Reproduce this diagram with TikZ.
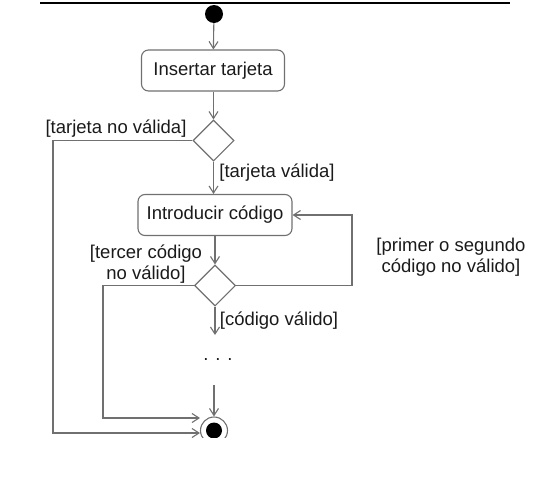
\documentclass[tikz,border=0pt]{standalone}
\usepackage{fontspec}
\setmainfont{Liberation Sans}
\usetikzlibrary{shapes.geometric,arrows.meta,calc}
\definecolor{ln}{HTML}{707070}
\definecolor{tx}{HTML}{1A1A1A}
\begin{document}
\begin{tikzpicture}[x=1pt,y=-1pt,
 act/.style={draw=ln,line width=1.1pt,rounded corners=7pt,minimum height=41pt,inner sep=0pt,font=\fontsize{18.5}{21}\selectfont,text=tx},
 dec/.style={draw=ln,line width=1.1pt,diamond,aspect=1,minimum size=41pt,inner sep=0pt},
 arr/.style={draw=ln,line width=1.1pt,-{Straight Barb[length=7pt,width=9pt]}},
 lbl/.style={font=\fontsize{18.5}{21}\selectfont,text=tx,inner sep=0pt,align=center},
]
\useasboundingbox (0,0) rectangle (541,477);
\draw[line width=1.3pt] (40,3) -- (510,3);
\begin{scope}
\clip (0,0) rectangle (541,437);
\node[circle,fill=black,minimum size=18pt,inner sep=0pt] (start) at (214,14) {};
\node[act,minimum width=143pt] (ins) at (213,70.5) {Insertar tarjeta};
\node[dec] (d1) at (213.5,140.5) {};
\node[act,minimum width=154pt] (cod) at (215,215) {Introducir código};
\node[dec] (d2) at (215,285.5) {};
\node[circle,draw=ln,line width=1.1pt,minimum size=27pt,inner sep=0pt] (fin) at (214,430.5) {};
\node[circle,fill=black,minimum size=16pt,inner sep=0pt] (finc) at (fin.center) {};
\coordinate (l1) at (53,300);
\coordinate (l2) at (103,350);
\coordinate (lp) at (352,250);
\coordinate (fA) at (200,418);
\coordinate (fB) at (200,433);
\coordinate (dd) at (215,335);
\coordinate (du) at (214,385);
\draw[arr] (start) -- (ins);
\draw[arr] (ins.south -| d1.north) -- (d1.north);
\draw[arr] (d1.south) -- (d1.south |- cod.north);
\draw[arr] (cod.south) -- (d2.north);
\draw[arr] (d2.east) -| (lp) |- (cod.east);
\draw[arr] (d1.west) -| (l1) |- (fB);
\draw[arr] (d2.west) -| (l2) |- (fA);
\draw[arr] (d2.south) -- (dd);
\draw[arr] (du) -- (fin.north);
\end{scope}
\node[lbl] (t1) at (116,129) {[tarjeta no válida]};
\node[lbl] (t2) at (277,173) {[tarjeta válida]};
\node[lbl] (t3) at (146,264) {[tercer código\\no válido]};
\node[lbl] (t4) at (451,257) {[primer o segundo\\código no válido]};
\node[lbl] (t5) at (279,321) {[código válido]};
\node[lbl] (dots) at (218,360) {. . .};
\end{tikzpicture}
\end{document}
